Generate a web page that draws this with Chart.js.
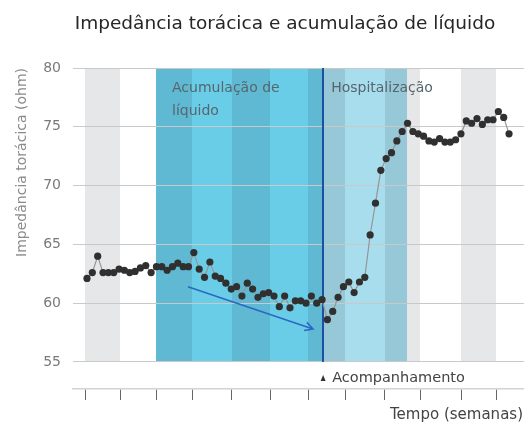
<!DOCTYPE html>
<html lang="pt">
<head>
  <meta charset="UTF-8">
  <title>Impedância torácica e acumulação de líquido</title>
  <script src="https://cdn.jsdelivr.net/npm/chart.js"></script>
  <style>
    html, body {
      margin: 0;
      padding: 0;
      background: #fff;
    }
    #wrap {
      width: 524px;
      height: 423px;
    }
  </style>
</head>
<body>
  <div id="wrap"><canvas id="chartImpedancia"></canvas></div>

  <script>
    // Impedância torácica (ohm), um ponto por dia
    const impedancia = [
      62.1, 62.6, 64.0, 62.6, 62.6, 62.6, 62.9, 62.8, 62.6, 62.7,
      63.0, 63.2, 62.6, 63.1, 63.1, 62.8, 63.1, 63.4, 63.1, 63.1,
      64.3, 62.9, 62.2, 63.5, 62.3, 62.1, 61.7, 61.2, 61.4, 60.6,
      61.7, 61.2, 60.5, 60.8, 60.9, 60.6, 59.7, 60.6, 59.6, 60.2,
      60.2, 60.0, 60.6, 60.0, 60.3, 58.6, 59.3, 60.5, 61.4, 61.8,
      60.9, 61.8, 62.2, 65.8, 68.5, 71.3, 72.3, 72.8, 73.8, 74.6,
      75.3, 74.6, 74.4, 74.2, 73.8, 73.7, 74.0, 73.7, 73.7, 73.9,
      74.4, 75.5, 75.3, 75.7, 75.2, 75.6, 75.6, 76.3, 75.8, 74.4
    ];
    const dias = impedancia.map((v, i) => i);

    const yTicks = [55, 60, 65, 70, 75, 80];
    const semanas = [-0.37, 6.18, 12.92, 19.66, 27.14, 34.26, 41.37, 48.3, 55.78, 62.34, 70.01, 76.56, 83];
    const acumulacao = [12.92, 44.2];
    const hospitalizacao = [44.2, 59.9];
    const acompanhamento = 44.2;
    const tendencia = [[18.9, 61.4], [42.3, 57.8]];

    const FONTE = '"DejaVu Sans", sans-serif';

    const fundo = {
      id: 'fundo',
      beforeDraw(chart) {
        const { ctx, chartArea: a, scales: { x, y } } = chart;
        const top = y.getPixelForValue(80), bot = y.getPixelForValue(55);
        ctx.save();
        ctx.beginPath();
        ctx.rect(a.left, top, a.right - a.left, bot - top);
        ctx.clip();
        // semanas alternadas cinza / branco
        ctx.fillStyle = '#e6e7e9';
        for (let k = 0; k < semanas.length - 1; k += 2) {
          const x0 = x.getPixelForValue(semanas[k]);
          const x1 = x.getPixelForValue(semanas[k + 1]);
          ctx.fillRect(x0, top, x1 - x0, bot - top);
        }
        ctx.globalCompositeOperation = 'multiply';
        let x0 = x.getPixelForValue(acumulacao[0]), x1 = x.getPixelForValue(acumulacao[1]);
        ctx.fillStyle = 'rgb(106,205,231)';
        ctx.fillRect(x0, top, x1 - x0, bot - top);
        x0 = x.getPixelForValue(hospitalizacao[0]); x1 = x.getPixelForValue(hospitalizacao[1]);
        ctx.fillStyle = 'rgb(168,221,237)';
        ctx.fillRect(x0, top, x1 - x0, bot - top);
        ctx.restore();
      },
      beforeDatasetsDraw(chart) {
        const { ctx, scales: { x, y } } = chart;
        const top = y.getPixelForValue(80), bot = y.getPixelForValue(55);
        ctx.save();
        // linha de acompanhamento
        const xl = Math.round(x.getPixelForValue(acompanhamento));
        ctx.strokeStyle = '#1f4f9e';
        ctx.lineWidth = 2;
        ctx.beginPath();
        ctx.moveTo(xl, top);
        ctx.lineTo(xl, bot);
        ctx.stroke();
        // seta de tendência
        const ax = x.getPixelForValue(tendencia[0][0]), ay = y.getPixelForValue(tendencia[0][1]);
        const bx = x.getPixelForValue(tendencia[1][0]), by = y.getPixelForValue(tendencia[1][1]);
        const ang = Math.atan2(by - ay, bx - ax);
        ctx.strokeStyle = '#2b67c4';
        ctx.lineWidth = 1.6;
        ctx.beginPath();
        ctx.moveTo(ax, ay);
        ctx.lineTo(bx, by);
        ctx.moveTo(bx - 9 * Math.cos(ang - 0.5), by - 9 * Math.sin(ang - 0.5));
        ctx.lineTo(bx, by);
        ctx.lineTo(bx - 9 * Math.cos(ang + 0.5), by - 9 * Math.sin(ang + 0.5));
        ctx.stroke();
        ctx.restore();
      },
      afterDraw(chart) {
        const { ctx, scales: { x } } = chart;
        ctx.save();
        ctx.textAlign = 'center';
        ctx.textBaseline = 'alphabetic';
        ctx.fillStyle = '#262626';
        ctx.font = '18.5px ' + FONTE;
        ctx.fillText('Impedância torácica e acumulação de líquido', 285, 29);

        ctx.textAlign = 'left';
        ctx.font = '14px ' + FONTE;
        ctx.fillStyle = '#56666c';
        const xa = x.getPixelForValue(acumulacao[0]) + 16;
        ctx.fillText('Acumulação de', xa, 92);
        ctx.fillText('líquido', xa, 115);
        ctx.fillText('Hospitalização', x.getPixelForValue(hospitalizacao[0]) + 8, 92);

        const xl = x.getPixelForValue(acompanhamento);
        ctx.fillStyle = '#333';
        ctx.beginPath();
        ctx.moveTo(xl - 2.5, 381);
        ctx.lineTo(xl + 2.5, 381);
        ctx.lineTo(xl, 375);
        ctx.closePath();
        ctx.fill();
        ctx.fillStyle = '#444';
        ctx.font = '14.5px ' + FONTE;
        ctx.fillText('Acompanhamento', xl + 9, 382);
        ctx.font = '15px ' + FONTE;
        ctx.fillText('Tempo (semanas)', 390, 419);
        ctx.restore();
      }
    };

    new Chart(document.getElementById('chartImpedancia'), {
      type: 'line',
      data: {
        datasets: [{
          data: dias.map((d, i) => ({ x: d, y: impedancia[i] })),
          borderColor: '#959595',
          borderWidth: 1.2,
          pointRadius: 3.6,
          pointBackgroundColor: '#303030',
          pointBorderWidth: 0,
          tension: 0
        }]
      },
      options: {
        responsive: true,
        maintainAspectRatio: false,
        animation: false,
        layout: { autoPadding: false, padding: { top: 68, left: 0, right: 0, bottom: 0 } },
        plugins: {
          legend: { display: false },
          tooltip: { enabled: false },
          title: { display: false }
        },
        scales: {
          x: {
            type: 'linear',
            min: -2.62,
            max: 81.8,
            afterBuildTicks(scale) {
              scale.ticks = semanas.slice(0, 12).map(v => ({ value: v }));
            },
            afterFit(scale) { scale.height = 34; },
            ticks: { display: false },
            grid: {
              drawOnChartArea: false,
              drawTicks: true,
              tickLength: 11,
              color: '#666',
              lineWidth: 1
            },
            border: { display: true, color: '#d2d2d2', width: 1.5 }
          },
          y: {
            min: 52.7,
            max: 80,
            afterBuildTicks(scale) {
              scale.ticks = yTicks.map(v => ({ value: v }));
            },
            afterFit(scale) { scale.width = 73; },
            ticks: {
              padding: 12,
              color: '#7a7a7a',
              font: { family: FONTE, size: 14 }
            },
            grid: { drawTicks: false, color: '#c9c9c9', lineWidth: 1 },
            border: { display: false },
            title: {
              display: true,
              text: 'Impedância torácica (ohm)',
              align: 'end',
              color: '#8a8a8a',
              font: { family: FONTE, size: 14 },
              padding: { top: 14, bottom: 0 }
            }
          }
        }
      },
      plugins: [fundo]
    });
  </script>
</body>
</html>
